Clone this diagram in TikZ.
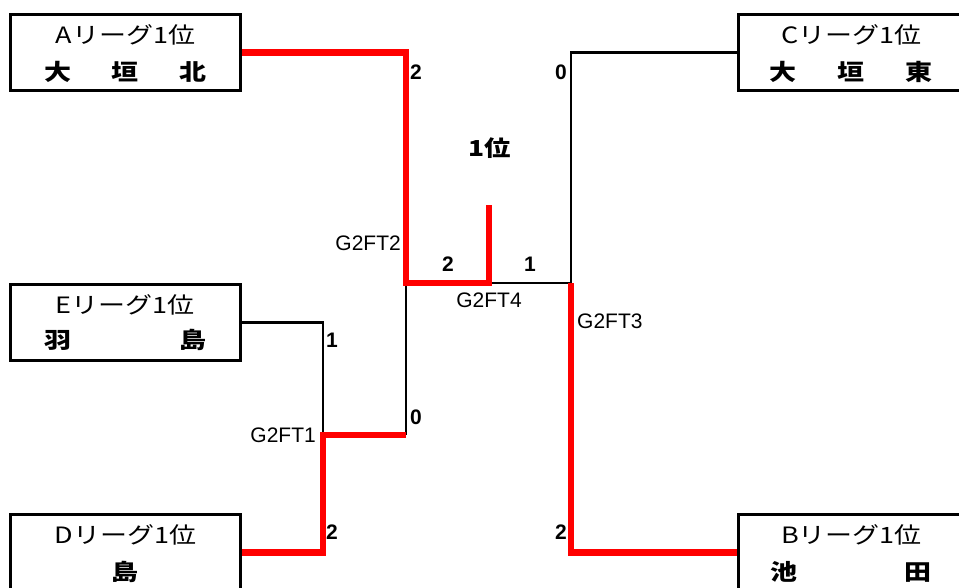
\documentclass[tikz,border=0pt]{standalone}
\usepackage{fontspec}
\setmainfont{Liberation Sans}
\newfontfamily\jp{Noto Sans CJK JP}[FakeStretch=1.2]

\begin{document}
\begin{tikzpicture}[
        x=1pt, y=-1pt,
        team/.style={draw, line width=2.8pt, rectangle, minimum width=230pt, minimum height=76pt, inner sep=0pt, anchor=north west},
        league/.style={font=\jp\fontsize{22.5}{24}\selectfont, inner sep=0pt},
        school/.style={font=\jp\bfseries\fontsize{22.5}{24}\selectfont, inner sep=0pt},
        score/.style={font=\bfseries\fontsize{21}{22}\selectfont, inner sep=0pt},
        game/.style={font=\fontsize{21}{22}\selectfont, inner sep=0pt},
        lose/.style={draw, line width=2.6pt},
        win/.style={draw=red, line width=6.5pt},
    ]
    \useasboundingbox (0,0) rectangle (959,587);

    % teams
    \node[team](A) at (9,13){};
    \node[team](E) at (9,283){};
    \node[team](D) at (9,513){};
    \node[team](C) at (737,13){};
    \node[team](B) at (737,513){};

    \node[league] at ([yshift=-22pt]A.north){Aリーグ1位};
    \node[school] at ([yshift=-59pt]A.north){\makebox[162pt][s]{大\hfill 垣\hfill 北}};
    \node[league] at ([yshift=-22pt]E.north){Eリーグ1位};
    \node[school] at ([yshift=-57pt]E.north){\makebox[162pt][s]{羽\hfill 島}};
    \node[league] at ([yshift=-22pt]D.north){Dリーグ1位};
    \node[school] at ([yshift=-59pt]D.north){島};
    \node[league] at ([xshift=-2pt,yshift=-22pt]C.north){Cリーグ1位};
    \node[school] at ([xshift=-2pt,yshift=-59pt]C.north){\makebox[163pt][s]{大\hfill 垣\hfill 東}};
    \node[league] at ([xshift=-2pt,yshift=-22pt]B.north){Bリーグ1位};
    \node[school] at ([xshift=-2pt,yshift=-59pt]B.north){\makebox[161pt][s]{池\hfill 田}};

    % junctions
    \coordinate (g1) at (323,435);
    \coordinate (g1top) at (406,435);
    \coordinate (g2) at (406,283);
    \coordinate (g4) at (489,283);
    \coordinate (champ) at (489,205);
    \coordinate (g3) at (571,283);

    % losers
    \draw[lose] (E.east) -| (g1);
    \draw[lose] (g2) -- (g1top);
    \draw[lose] (g4) -- (g3);
    \draw[lose] (C.west) -| (g3);

    % winners
    \draw[win] (D.east) -| (g1) -- (g1top);
    \draw[win] (A.east) -| (g2) -- (g4) -- (champ);
    \draw[win] (g3) |- (B.west);

    % scores
    \node[score] at (416,72){2};
    \node[score] at (561,72){0};
    \node[score] at (448,264){2};
    \node[score] at (530,264){1};
    \node[score] at (332,340){1};
    \node[score] at (416,417){0};
    \node[score] at (332,532){2};
    \node[score] at (561,532){2};

    \node[game, anchor=east] at (401,243){G2FT2};
    \node[game] at (489,300){G2FT4};
    \node[game, anchor=west] at (577,321){G2FT3};
    \node[game, anchor=east] at (316,435){G2FT1};

    \node[font=\jp\bfseries\fontsize{22}{24}\selectfont, inner sep=0pt] at (490,148){1位};
\end{tikzpicture}
\end{document}
